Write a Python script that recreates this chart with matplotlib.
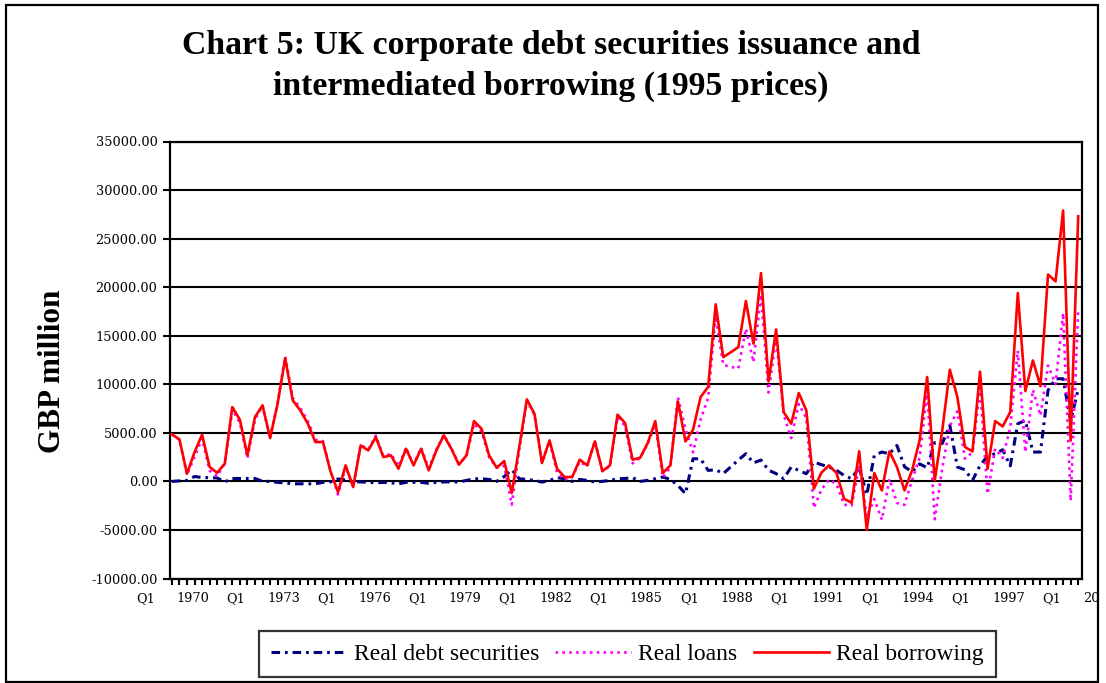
import matplotlib
matplotlib.use("Agg")
import matplotlib.pyplot as plt
from matplotlib.patches import Rectangle
from matplotlib.transforms import Bbox, TransformedBbox
from matplotlib.ticker import MultipleLocator

# Quarterly series, GBP million at 1995 prices
debt_securities = [
    0, 50, 100, 500, 400, 380, 350, -50, 300, 300,
    300, 300, 0, 0, -100, -150, -250, -250, -250, -250,
    -100, -50, 250, 150, -50, -50, -100, -150, -100, -150,
    -250, -100, -100, -100, -200, -100, -50, -50, -70, 100,
    270, 270, 200, 0, 500, 1200, 270, 200, 100, -70,
    100, 380, 270, 0, 200, 100, -70, 0, 100, 270,
    300, 380, 0, 100, 270, 450, 200, -410, -1270, 2330,
    2330, 1130, 1200, 800, 1500, 2200, 2850, 1900, 2200, 1150,
    800, 270, 1480, 1130, 790, 1990, 1720, 1480, 1130, 620,
    270, 1480, -1400, 2680, 3020, 2850, 3700, 1500, 1000, 1800,
    1400, 4000, 3900, 5770, 1480, 1200, 100, 1650, 2600, 2850,
    3260, 1600, 5940, 6280, 3020, 3020, 9370, 10570, 10570, 6200,
    9500,
]

loans = [
    4840, 4280, 690, 2520, 4410, 1100, 540, 1870, 7350, 6050,
    2380, 6330, 7830, 4460, 8100, 12850, 8590, 7560, 6190, 4300,
    4150, 1080, -1350, 1500, -530, 3750, 3290, 4710, 2600, 2830,
    1550, 3460, 1750, 3460, 1330, 3250, 4790, 3410, 1790, 2580,
    5940, 5150, 2480, 1410, 1590, -2400, 3330, 8250, 6870, 1960,
    4120, 920, 180, 450, 2030, 1550, 4190, 1060, 1550, 6600,
    5710, 1850, 2440, 3850, 5940, 410, 1450, 8650, 5390, 2990,
    6360, 8590, 17030, 12000, 11800, 11630, 15720, 12280, 19250, 9150,
    14850, 6870, 4460, 7970, 6520, -2740, -820, 170, -270, -2410,
    -2470, 1620, -3600, -1820, -3950, 240, -2220, -2430, 130, 2420,
    9350, -3900, 1350, 5730, 7210, 2340, 2990, 9650, -1300, 3360,
    2400, 5540, 13460, 3020, 9430, 6780, 11930, 10030, 17330, -2000,
    17800,
]

borrowing = [
    4840, 4330, 790, 3020, 4810, 1480, 890, 1820, 7650, 6350,
    2680, 6630, 7830, 4460, 8000, 12700, 8340, 7310, 5940, 4050,
    4050, 1030, -1100, 1650, -580, 3700, 3190, 4560, 2500, 2680,
    1300, 3360, 1650, 3360, 1130, 3150, 4740, 3360, 1720, 2680,
    6210, 5420, 2680, 1410, 2090, -1200, 3600, 8450, 6970, 1890,
    4220, 1300, 450, 450, 2230, 1650, 4120, 1060, 1650, 6870,
    6010, 2230, 2440, 3950, 6210, 860, 1650, 8240, 4120, 5320,
    8690, 9720, 18230, 12800, 13300, 13830, 18570, 14180, 21450, 10300,
    15650, 7140, 5940, 9100, 7310, -750, 900, 1650, 860, -1790,
    -2200, 3100, -5000, 860, -930, 3090, 1480, -930, 1130, 4220,
    10750, 100, 5250, 11500, 8690, 3540, 3090, 11300, 1300, 6210,
    5660, 7140, 19400, 9300, 12450, 9800, 21300, 20600, 27900, 4200,
    27300,
]

x_labels = ["Q1", "1970", "Q1", "1973", "Q1", "1976", "Q1", "1979", "Q1",
            "1982", "Q1", "1985", "Q1", "1988", "Q1", "1991", "Q1", "1994",
            "Q1", "1997", "Q1", "2000"]

y_ticks = list(range(-10000, 35001, 5000))

quarters = list(range(len(borrowing)))

serif = ["Liberation Serif", "DejaVu Serif"]
tick_font = ["DejaVu Serif"]

W, H = 1106, 683
fig = plt.figure(figsize=(W / 100, H / 100), dpi=100)
fig.patch.set_facecolor("white")

ax = fig.add_axes([170 / W, 1 - 578.5 / H, (1082 - 170) / W, (578.5 - 141.5) / H])

# Series, drawn in order so the borrowing line sits on top
ax.plot(quarters, debt_securities, color="#000080", lw=2.2,
        dashes=(2.8, 1.6, 0.9, 1.6), label="Real debt securities", zorder=3)
ax.plot(quarters, loans, color="#FF00FF", lw=1.9,
        dashes=(1.0, 1.6), label="Real loans", zorder=4)
ax.plot(quarters, borrowing, color="#FF0000", lw=1.9,
        label="Real borrowing", zorder=5)

ax.set_xlim(-0.25, 120.5)
ax.set_ylim(-10000, 35000)

# Horizontal gridlines
ax.set_yticks(y_ticks)
ax.set_yticklabels([f"{v:.2f}" for v in y_ticks], fontfamily=tick_font, fontsize=9.3)
ax.yaxis.grid(True, color="black", lw=1.5)
ax.set_axisbelow(True)
ax.tick_params(axis="y", direction="out", length=5, width=1.5, pad=4, colors="black")

# Quarter ticks along the category axis
ax.xaxis.set_major_locator(MultipleLocator(1))
ax.set_xticklabels([])
ax.tick_params(axis="x", direction="out", length=4, width=1.5, colors="black")

for s in ax.spines.values():
    s.set_linewidth(1.6)
    s.set_color("black")

# Category labels, every six quarters
border_box = TransformedBbox(Bbox.from_extents(6 / W, 1 - 681.5 / H, 1098 / W, 1 - 5 / H),
                             fig.transFigure)
for k, lab in enumerate(x_labels):
    pos = -3.5 + 6 * k + (0.3 if k % 2 else 0.0)
    t = ax.text(pos, -0.045, lab, transform=ax.get_xaxis_transform(),
                ha="center", va="center", fontsize=9.3, fontfamily=tick_font,
                clip_on=True)
    t.set_clip_box(border_box)

ax.set_ylabel("GBP million", fontfamily=serif, fontsize=22.4, fontweight="bold")
ax.yaxis.set_label_coords(-0.113, 0.475)

fig.text(0.498, 1 - 66 / H,
         "Chart 5: UK corporate debt securities issuance and\n"
         "intermediated borrowing (1995 prices)",
         ha="center", va="center", fontfamily=serif, fontsize=24.3,
         fontweight="bold", linespacing=1.42)

leg = fig.legend(loc="center", bbox_to_anchor=((259 + 996) / 2 / W, 1 - 654 / H),
                 ncol=3, frameon=True, fancybox=False, edgecolor="black",
                 prop={"family": serif, "size": 17}, handlelength=3.2,
                 handletextpad=0.3, columnspacing=0.7, borderpad=0.5,
                 borderaxespad=0)
leg.get_frame().set_linewidth(1.6)

# Chart area border
fig.add_artist(Rectangle((6 / W, 1 - 681.5 / H), (1098 - 6) / W, (681.5 - 5) / H,
                         transform=fig.transFigure, fill=False,
                         edgecolor="black", lw=1.6))

fig.savefig("out.png", dpi=100, facecolor="white")
